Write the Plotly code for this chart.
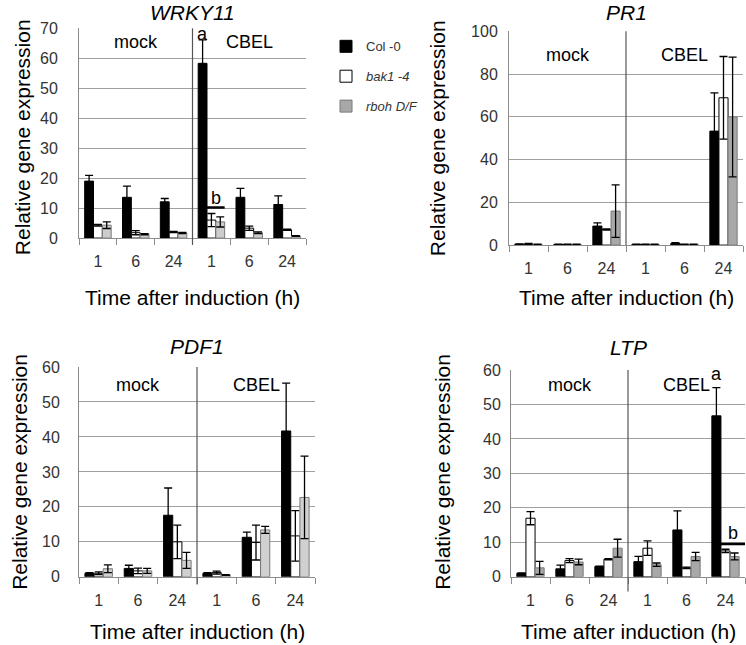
import plotly.graph_objects as go

# ---------------- data ----------------
time_labels = ["1", "6", "24", "1", "6", "24"]
treatments = ["mock", "CBEL"]
genotypes = ["Col -0", "bak1 -4", "rboh D/F"]

wrky_col = [19.0, 13.6, 12.1, 58.3, 13.6, 11.2]
wrky_col_err = [1.9, 3.7, 1.1, 7.8, 3.0, 2.9]
wrky_bak = [4.3, 1.8, 2.0, 6.0, 3.3, 2.8]
wrky_bak_err = [0.3, 0.7, 0.2, 2.2, 0.7, 0.2]
wrky_rboh = [4.3, 1.3, 1.7, 5.4, 1.8, 0.7]
wrky_rboh_err = [1.1, 0.2, 0.2, 1.7, 0.3, 0.1]

pr1_col = [0.4, 0.3, 8.9, 0.3, 0.8, 53.3]
pr1_col_err = [0.2, 0.1, 1.5, 0.1, 0.3, 17.9]
pr1_bak = [0.5, 0.3, 7.3, 0.3, 0.3, 68.9]
pr1_bak_err = [0.3, 0.1, 0.3, 0.1, 0.1, 19.3]
pr1_rboh = [0.3, 0.3, 15.9, 0.3, 0.3, 59.9]
pr1_rboh_err = [0.1, 0.1, 12.3, 0.1, 0.1, 28.0]

pdf1_col = [1.0, 2.4, 17.6, 1.0, 11.3, 41.7]
pdf1_col_err = [0.2, 0.9, 7.8, 0.2, 1.5, 13.7]
pdf1_bak = [1.0, 1.7, 10.0, 1.2, 9.8, 11.7]
pdf1_bak_err = [0.4, 0.8, 4.8, 0.4, 5.0, 7.2]
pdf1_rboh = [2.3, 1.7, 4.7, 0.5, 13.4, 22.7]
pdf1_rboh_err = [1.1, 0.7, 2.3, 0.1, 1.0, 11.8]

ltp_col = [1.0, 2.3, 3.0, 4.4, 13.6, 46.7]
ltp_col_err = [0.1, 1.1, 0.1, 1.5, 5.5, 8.2]
ltp_bak = [17.0, 4.7, 5.1, 8.3, 2.6, 7.5]
ltp_bak_err = [1.9, 0.6, 0.2, 2.1, 0.2, 0.5]
ltp_rboh = [2.6, 4.3, 8.3, 3.5, 5.9, 5.9]
ltp_rboh_err = [1.9, 0.8, 2.6, 0.5, 1.2, 1.0]

panels = [
    dict(title="WRKY11", ymax=70, dtick=10, gray="#cccccc",
         col=wrky_col, col_err=wrky_col_err, bak=wrky_bak, bak_err=wrky_bak_err,
         rboh=wrky_rboh, rboh_err=wrky_rboh_err),
    dict(title="PR1", ymax=100, dtick=20, gray="#a8a8a8",
         col=pr1_col, col_err=pr1_col_err, bak=pr1_bak, bak_err=pr1_bak_err,
         rboh=pr1_rboh, rboh_err=pr1_rboh_err),
    dict(title="PDF1", ymax=60, dtick=10, gray="#d0d0d0",
         col=pdf1_col, col_err=pdf1_col_err, bak=pdf1_bak, bak_err=pdf1_bak_err,
         rboh=pdf1_rboh, rboh_err=pdf1_rboh_err),
    dict(title="LTP", ymax=60, dtick=10, gray="#a8a8a8",
         col=ltp_col, col_err=ltp_col_err, bak=ltp_bak, bak_err=ltp_bak_err,
         rboh=ltp_rboh, rboh_err=ltp_rboh_err),
]

# ---------------- layout geometry (pixels) ----------------
W, H = 746, 645
boxes = [  # left, right, top, bottom
    (79, 306, 20.8, 236.3),
    (509, 743, 23.9, 243.5),
    (79, 315, 368.7, 584.2),
    (511, 745, 371.8, 584.2),
]
ylab_standoff = [17, 7, 15, 6]
div_ext = [7, 0, 8, 15]
title_y = [5.0, 5.0, 347.5, 348.5]
ytitle_x = [22, 437, 20, 443]
ytitle_y = [132.7, 133.7, 476.4, 476.4]
xtitle_y = [296.9, 296.9, 640.6, 640.6]
group_label_px = [35.2, 48.5, 387.2, 387.2]

FONT = "Liberation Sans, Arial, sans-serif"
xpos = list(range(len(time_labels)))

fig = go.Figure()
layout = dict(width=W, height=H, margin=dict(l=0, r=0, t=0, b=0),
              paper_bgcolor="white", plot_bgcolor="white",
              barmode="group", bargap=0.3, bargroupgap=0,
              font=dict(family=FONT, color="#222"))
annotations = []
shapes = []

for i, p in enumerate(panels):
    n = i + 1
    xa = "x" if n == 1 else f"x{n}"
    ya = "y" if n == 1 else f"y{n}"
    l, r, t, b = boxes[i]
    series = [
        (genotypes[0], p["col"], p["col_err"], "black", "black"),
        (genotypes[1], p["bak"], p["bak_err"], "white", "black"),
        (genotypes[2], p["rboh"], p["rboh_err"], p["gray"], "#7a7a7a"),
    ]
    for name, vals, errs, c, lc in series:
        disp = name if name == "Col -0" else f"<i>{name}</i>"
        fig.add_trace(go.Bar(
            x=xpos, y=vals, name=disp, xaxis=xa, yaxis=ya,
            marker=dict(color=c, line=dict(color=lc, width=1)),
            error_y=dict(type="data", array=errs, visible=True, color="black",
                         thickness=1.3, width=4),
            offsetgroup=name, legendgroup=name, showlegend=(n == 2),
        ))
    layout[f"xaxis{'' if n == 1 else n}"] = dict(
        domain=[l / W, r / W], anchor=ya, range=[-0.5, 5.5],
        tickmode="array", tickvals=xpos, ticktext=time_labels, ticks="",
        tickfont=dict(size=16, color="#333"), ticklabelstandoff=9,
        showline=True, linecolor="#8c8c8c", linewidth=1,
        showgrid=False, zeroline=False, fixedrange=True,
        minor=dict(tickmode="array", tickvals=[k - 0.5 for k in range(7)],
                   ticks="outside", ticklen=6, tickcolor="#8c8c8c", showgrid=False),
    )
    layout[f"yaxis{'' if n == 1 else n}"] = dict(
        domain=[1 - b / H, 1 - t / H], anchor=xa, range=[0, p["ymax"]],
        dtick=p["dtick"], ticks="", tickfont=dict(size=16, color="#333"),
        ticklabelstandoff=ylab_standoff[i],
        showline=True, linecolor="#8c8c8c", linewidth=1,
        showgrid=True, gridcolor="#a0a0a0", gridwidth=1, zeroline=False,
    )
    # panel title
    annotations.append(dict(text=f"<i>{p['title']}</i>", xref="paper", yref="paper",
                            x=(l + r) / 2 / W, y=1 - title_y[i] / H,
                            xanchor="center", yanchor="middle", showarrow=False,
                            font=dict(size=21, color="black")))
    # axis titles
    annotations.append(dict(text="Relative gene expression", xref="paper", yref="paper",
                            x=ytitle_x[i] / W, y=1 - ytitle_y[i] / H, textangle=-90,
                            xanchor="center", yanchor="middle", showarrow=False,
                            font=dict(size=21, color="black")))
    annotations.append(dict(text="Time after induction (h)", xref="paper", yref="paper",
                            x=(l + r) / 2 / W, y=1 - xtitle_y[i] / H,
                            xanchor="center", yanchor="middle", showarrow=False,
                            font=dict(size=21, color="black")))
    # treatment group labels
    gy = (b - group_label_px[i]) / (b - t) * p["ymax"]
    for k, tr in enumerate(treatments):
        annotations.append(dict(text=tr, xref=xa, yref=ya, x=1 + 3 * k, y=gy,
                                xanchor="center", yanchor="middle", showarrow=False,
                                font=dict(size=18, color="black")))
    # mock / CBEL divider
    shapes.append(dict(type="line", xref=xa, yref=f"{ya} domain", x0=2.5, x1=2.5,
                       y0=-div_ext[i] / (b - t), y1=1,
                       line=dict(color="#555555", width=1.2)))

# significance letters and bars
annotations += [
    dict(text="a", xref="x", yref="y", x=2.767, y=68, showarrow=False,
         font=dict(size=18, color="black")),
    dict(text="b", xref="x", yref="y", x=3.13, y=13.4, showarrow=False,
         font=dict(size=18, color="black")),
    dict(text="a", xref="x4", yref="y4", x=4.767, y=58.8, showarrow=False,
         font=dict(size=18, color="black")),
    dict(text="b", xref="x4", yref="y4", x=5.2, y=12.8, showarrow=False,
         font=dict(size=18, color="black")),
]
shapes += [
    dict(type="line", xref="x", yref="y", x0=2.88, x1=3.35, y0=10.2, y1=10.2,
         line=dict(color="black", width=2.5)),
    dict(type="line", xref="x4", yref="y4", x0=4.86, x1=5.5, y0=9.5, y1=9.5,
         line=dict(color="black", width=2.5)),
]

layout["annotations"] = annotations
layout["shapes"] = shapes
layout["showlegend"] = True
layout["legend"] = dict(x=0.437, y=1 - 24 / H, xanchor="left", yanchor="top",
                        font=dict(size=13, color="#333"), tracegroupgap=10,
                        bgcolor="rgba(0,0,0,0)", itemwidth=30)
fig.update_layout(**layout)

post = (
    "var h=document.documentElement,b=document.body;"
    "h.style.margin='0';h.style.padding='0';h.style.overflow='hidden';"
    "b.style.margin='0';b.style.padding='0';b.style.overflow='hidden';"
    "var gd=document.getElementById('{plot_id}');"
    "gd.style.position='fixed';gd.style.top='0px';gd.style.left='0px';"
)
fig.write_html("out.html", config={"displayModeBar": False},
               post_script=post)
